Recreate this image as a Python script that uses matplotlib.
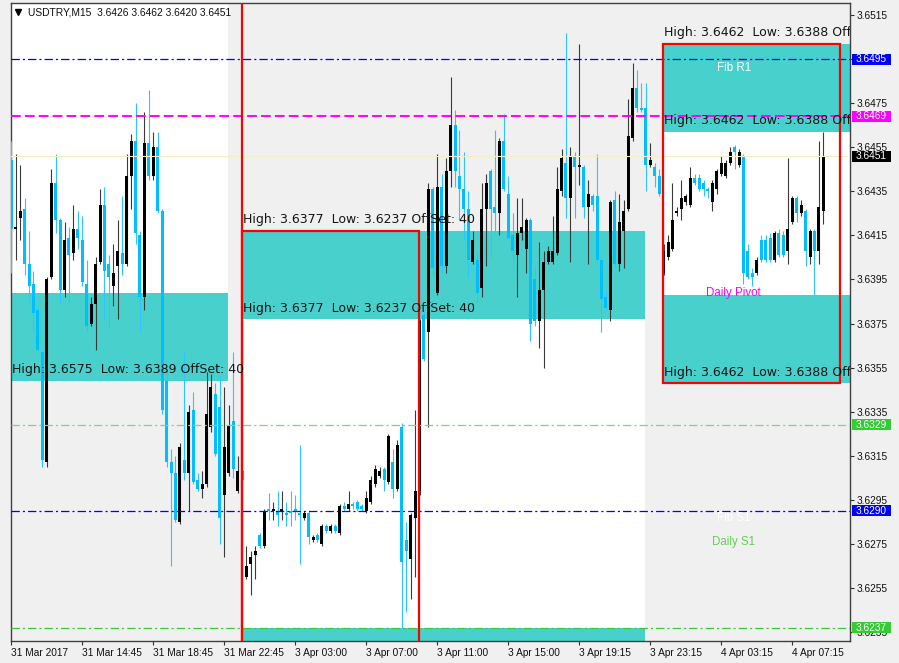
import numpy as np
import matplotlib
matplotlib.use("Agg")
import matplotlib.pyplot as plt
from matplotlib.patches import Rectangle
import matplotlib.transforms as mtrans

plt.rcParams['lines.scale_dashes'] = False
plt.rcParams['font.family'] = ['Liberation Sans', 'DejaVu Sans']

# ---------------- data ----------------
symbol = "USDTRY,M15"
last_ohlc = [3.6426, 3.6462, 3.6420, 3.6451]

opens = [
    3.6449, 3.6418, 3.6423, 3.6427, 3.6402, 3.6393, 3.6381, 3.6362, 3.6312, 3.6396,
    3.6439, 3.6422, 3.6390, 3.6414, 3.6407, 3.6418, 3.6413, 3.6393, 3.6375, 3.6384,
    3.6403, 3.6429, 3.6402, 3.6392, 3.6401, 3.6407, 3.6402, 3.6442, 3.6458, 3.6415,
    3.6387, 3.6457, 3.6442, 3.6455, 3.6426, 3.6349, 3.6312, 3.6307, 3.6285, 3.6313,
    3.6307, 3.6336, 3.6304, 3.6300, 3.6302, 3.6328, 3.6343, 3.6337, 3.6297, 3.6307,
    3.6331, 3.6299, 3.6308, 3.6260, 3.6266, 3.6270, 3.6279, 3.6274, 3.6291, 3.6290,
    3.6290, 3.6290, 3.6289, 3.6290, 3.6291, 3.6289, 3.6287, 3.6289, 3.6277, 3.6279,
    3.6275, 3.6283, 3.6281, 3.6283, 3.6280, 3.6292, 3.6291, 3.6293, 3.6294, 3.6292,
    3.6290, 3.6294, 3.6302, 3.6306, 3.6309, 3.6303, 3.6312, 3.6300, 3.6328, 3.6277,
    3.6268, 3.6287, 3.6299, 3.6379, 3.6371, 3.6436, 3.6389, 3.6437, 3.6401, 3.6444,
    3.6465, 3.6442, 3.6436, 3.6427, 3.6403, 3.6404, 3.6391, 3.6427, 3.6444, 3.6428,
    3.6425, 3.6458, 3.6434, 3.6415, 3.6406, 3.6416, 3.6409, 3.6422, 3.6395, 3.6376,
    3.6390, 3.6403, 3.6403, 3.6407, 3.6435, 3.6448, 3.6432, 3.6451, 3.6446, 3.6446,
    3.6428, 3.6433, 3.6433, 3.6404, 3.6387, 3.6381, 3.6431, 3.6402, 3.6417, 3.6427,
    3.6459, 3.6482, 3.6473, 3.6473, 3.6447, 3.6446, 3.6442, 3.6398, 3.6405, 3.6409,
    3.6425, 3.6427, 3.6430, 3.6429, 3.6441, 3.6441, 3.6439, 3.6436, 3.6430, 3.6436,
    3.6443, 3.6442, 3.6448, 3.6455, 3.6447, 3.6451, 3.6408, 3.6398, 3.6398, 3.6413,
    3.6413, 3.6414, 3.6404, 3.6416, 3.6415, 3.6408, 3.6421, 3.6432, 3.6425, 3.6426,
    3.6405, 3.6417, 3.6408, 3.6426]

highs = [
    3.6458, 3.6452, 3.6447, 3.6432, 3.6417, 3.6399, 3.6382, 3.6363, 3.6396, 3.6445,
    3.6452, 3.6423, 3.6421, 3.6419, 3.6429, 3.6426, 3.6424, 3.6404, 3.6387, 3.6405,
    3.6436, 3.6437, 3.6406, 3.6411, 3.6422, 3.6433, 3.6452, 3.6461, 3.6475, 3.6417,
    3.6471, 3.6481, 3.6462, 3.6462, 3.6427, 3.6354, 3.6318, 3.6315, 3.6321, 3.6362,
    3.6338, 3.6344, 3.6307, 3.6308, 3.6353, 3.6352, 3.6348, 3.6351, 3.6346, 3.6338,
    3.6362, 3.6315, 3.6309, 3.6274, 3.6272, 3.6274, 3.6280, 3.6291, 3.6298, 3.6294,
    3.6299, 3.6299, 3.6294, 3.6299, 3.6297, 3.6320, 3.6290, 3.6290, 3.6279, 3.6280,
    3.6284, 3.6284, 3.6284, 3.6284, 3.6293, 3.6294, 3.6299, 3.6294, 3.6295, 3.6293,
    3.6299, 3.6306, 3.6311, 3.6310, 3.6310, 3.6325, 3.6318, 3.6322, 3.6330, 3.6285,
    3.6289, 3.6336, 3.6377, 3.6381, 3.6439, 3.6437, 3.6452, 3.6443, 3.6450, 3.6487,
    3.6472, 3.6463, 3.6453, 3.6435, 3.6417, 3.6407, 3.6439, 3.6443, 3.6445, 3.6463,
    3.6459, 3.6470, 3.6442, 3.6425, 3.6432, 3.6432, 3.6423, 3.6423, 3.6401, 3.6412,
    3.6408, 3.6410, 3.6424, 3.6446, 3.6454, 3.6507, 3.6455, 3.6453, 3.6502, 3.6447,
    3.6440, 3.6434, 3.6452, 3.6405, 3.6390, 3.6431, 3.6435, 3.6434, 3.6431, 3.6477,
    3.6493, 3.6490, 3.6484, 3.6484, 3.6457, 3.6448, 3.6445, 3.6411, 3.6415, 3.6439,
    3.6428, 3.6440, 3.6434, 3.6446, 3.6443, 3.6443, 3.6440, 3.6437, 3.6440, 3.6445,
    3.6451, 3.6449, 3.6455, 3.6456, 3.6454, 3.6452, 3.6411, 3.6400, 3.6405, 3.6415,
    3.6415, 3.6416, 3.6417, 3.6418, 3.6417, 3.6450, 3.6433, 3.6433, 3.6431, 3.6427,
    3.6418, 3.6418, 3.6458, 3.6462]

lows = [
    3.6398, 3.6404, 3.6413, 3.6397, 3.6385, 3.6372, 3.6362, 3.6310, 3.6310, 3.6395,
    3.6416, 3.6384, 3.6387, 3.6385, 3.6404, 3.6409, 3.6392, 3.6371, 3.6374, 3.6363,
    3.6402, 3.6377, 3.6373, 3.6383, 3.6377, 3.6397, 3.6401, 3.6427, 3.6411, 3.6371,
    3.6381, 3.6440, 3.6440, 3.6425, 3.6334, 3.6310, 3.6265, 3.6285, 3.6284, 3.6304,
    3.6290, 3.6302, 3.6299, 3.6296, 3.6301, 3.6326, 3.6315, 3.6275, 3.6269, 3.6306,
    3.6305, 3.6298, 3.6303, 3.6259, 3.6252, 3.6259, 3.6273, 3.6273, 3.6286, 3.6286,
    3.6283, 3.6286, 3.6283, 3.6283, 3.6286, 3.6266, 3.6286, 3.6275, 3.6276, 3.6276,
    3.6274, 3.6280, 3.6280, 3.6280, 3.6279, 3.6290, 3.6290, 3.6291, 3.6290, 3.6290,
    3.6289, 3.6293, 3.6301, 3.6305, 3.6299, 3.6302, 3.6296, 3.6299, 3.6237, 3.6244,
    3.6250, 3.6260, 3.6297, 3.6358, 3.6328, 3.6397, 3.6388, 3.6398, 3.6398, 3.6437,
    3.6437, 3.6422, 3.6413, 3.6396, 3.6402, 3.6385, 3.6387, 3.6401, 3.6405, 3.6416,
    3.6415, 3.6435, 3.6413, 3.6403, 3.6387, 3.6413, 3.6398, 3.6367, 3.6374, 3.6364,
    3.6355, 3.6402, 3.6402, 3.6406, 3.6433, 3.6423, 3.6403, 3.6423, 3.6438, 3.6423,
    3.6402, 3.6426, 3.6403, 3.6371, 3.6381, 3.6376, 3.6400, 3.6399, 3.6400, 3.6426,
    3.6458, 3.6471, 3.6471, 3.6435, 3.6446, 3.6437, 3.6433, 3.6397, 3.6404, 3.6408,
    3.6424, 3.6422, 3.6429, 3.6428, 3.6438, 3.6435, 3.6433, 3.6432, 3.6426, 3.6434,
    3.6442, 3.6441, 3.6447, 3.6445, 3.6446, 3.6393, 3.6395, 3.6392, 3.6397, 3.6403,
    3.6403, 3.6403, 3.6403, 3.6405, 3.6405, 3.6402, 3.6420, 3.6421, 3.6424, 3.6401,
    3.6402, 3.6388, 3.6402, 3.6420]

closes = [
    3.6418, 3.6419, 3.6426, 3.6402, 3.6392, 3.6380, 3.6363, 3.6313, 3.6395, 3.6439,
    3.6422, 3.6390, 3.6413, 3.6406, 3.6418, 3.6414, 3.6394, 3.6374, 3.6384, 3.6402,
    3.6429, 3.6399, 3.6396, 3.6398, 3.6408, 3.6402, 3.6442, 3.6458, 3.6416, 3.6387,
    3.6457, 3.6442, 3.6455, 3.6426, 3.6336, 3.6312, 3.6307, 3.6286, 3.6319, 3.6307,
    3.6335, 3.6303, 3.6300, 3.6302, 3.6334, 3.6346, 3.6316, 3.6287, 3.6319, 3.6329,
    3.6309, 3.6308, 3.6304, 3.6265, 3.6269, 3.6272, 3.6274, 3.6290, 3.6290, 3.6291,
    3.6288, 3.6291, 3.6288, 3.6289, 3.6290, 3.6288, 3.6289, 3.6278, 3.6278, 3.6277,
    3.6283, 3.6281, 3.6283, 3.6281, 3.6292, 3.6291, 3.6293, 3.6292, 3.6291, 3.6291,
    3.6296, 3.6304, 3.6309, 3.6308, 3.6304, 3.6324, 3.6300, 3.6320, 3.6267, 3.6272,
    3.6288, 3.6299, 3.6376, 3.6359, 3.6436, 3.6400, 3.6437, 3.6401, 3.6444, 3.6465,
    3.6444, 3.6436, 3.6427, 3.6404, 3.6413, 3.6389, 3.6427, 3.6439, 3.6427, 3.6425,
    3.6458, 3.6436, 3.6414, 3.6408, 3.6416, 3.6419, 3.6422, 3.6375, 3.6376, 3.6390,
    3.6403, 3.6408, 3.6408, 3.6436, 3.6450, 3.6432, 3.6451, 3.6446, 3.6447, 3.6428,
    3.6434, 3.6429, 3.6404, 3.6386, 3.6382, 3.6430, 3.6402, 3.6421, 3.6426, 3.6460,
    3.6482, 3.6473, 3.6472, 3.6447, 3.6449, 3.6442, 3.6434, 3.6408, 3.6412, 3.6422,
    3.6426, 3.6432, 3.6433, 3.6441, 3.6439, 3.6436, 3.6436, 3.6435, 3.6439, 3.6444,
    3.6448, 3.6448, 3.6453, 3.6453, 3.6453, 3.6398, 3.6396, 3.6396, 3.6404, 3.6404,
    3.6404, 3.6404, 3.6416, 3.6406, 3.6406, 3.6418, 3.6432, 3.6425, 3.6429, 3.6408,
    3.6417, 3.6408, 3.6428, 3.6451]

time_labels = ["31 Mar 2017", "31 Mar 14:45", "31 Mar 18:45", "31 Mar 22:45",
               "3 Apr 03:00", "3 Apr 07:00", "3 Apr 11:00", "3 Apr 15:00",
               "3 Apr 19:15", "3 Apr 23:15", "4 Apr 03:15", "4 Apr 07:15"]
time_label_bars = [0, 16, 32, 48, 64, 80, 96, 112, 128, 144, 160, 176]

price_ticks = [3.6515, 3.6495, 3.6475, 3.6455, 3.6435, 3.6415, 3.6395, 3.6375,
               3.6355, 3.6335, 3.6315, 3.6295, 3.6275, 3.6255, 3.6235]

level_prices = [3.6495, 3.6469, 3.6451, 3.6329, 3.6290, 3.6237]
level_colors = ['#0000FF', '#FF00FF', '#F3EEC6', '#7ED67E', '#0000FF', '#3CC83C']
level_box_colors = ['#0000FF', '#FF00FF', '#000000', '#32CD32', '#0000FF', '#32CD32']
level_styles = ['dashdot', 'dashed', 'solid', 'dashdot', 'dashdot', 'dashdot']

session_high = [3.6575, 3.6377, 3.6462]
session_low = [3.6389, 3.6237, 3.6388]
session_offset = 40  # points

pivot_names = ["Fib R1", "Daily Pivot", "Fib S1", "Daily S1"]
pivot_text_prices = [3.6491, 3.6389, 3.6287, 3.6276]
pivot_text_colors = ['#FFFFFF', '#FF00FF', '#FFFFFF', '#66CC55']

# ---------------- layout ----------------
W, H = 899, 663
fig = plt.figure(figsize=(W / 100, H / 100), dpi=100, facecolor='#F0F0F0')
ax_l, ax_r, ax_t, ax_b = 10.7, 850.0, 3.3, 641.0
ax = fig.add_axes([ax_l / W, (H - ax_b) / H, (ax_r - ax_l) / W, (ax_b - ax_t) / H])
ax.set_facecolor('#F0F0F0')

px_per_bar = 4.4375
bar0_px = 11.3
x_left = (ax_l - bar0_px) / px_per_bar
x_right = (ax_r - bar0_px) / px_per_bar
px_per_price = 22040.0
y_top = 3.6515 + (15 - ax_t) / px_per_price
y_bot = 3.6515 - (ax_b - 15) / px_per_price

teal = '#48D1CC'
off = session_offset * 0.0001
sess_start = [x_left - 5, 51.9, 146.75]
sess_box_end = [48.8, 142.8, x_right + 5]
sess_rect_end = [None, 91.8, 186.7]
sess_text_x = [0.15, 52.2, 147.1]

for k in range(3):
    x0, x1 = sess_start[k], sess_box_end[k]
    lo, hi = session_low[k], session_high[k]
    ax.add_patch(Rectangle((x0, lo), x1 - x0, hi - lo, fc='white', ec='none', zorder=0.5))
    ax.add_patch(Rectangle((x0, hi), x1 - x0, off, fc=teal, ec='none', zorder=0.6))
    ax.add_patch(Rectangle((x0, lo - off), x1 - x0, off, fc=teal, ec='none', zorder=0.6))
    if sess_rect_end[k] is not None:
        ax.add_patch(Rectangle((x0, lo - off), sess_rect_end[k] - x0, hi - lo + 2 * off,
                               fill=False, ec='#FF0000', lw=1.6, zorder=6))
    label = f"High: {hi:.4f}  Low: {lo:.4f} OffSet: {session_offset}"
    for yy in (hi + off, hi, lo - off):
        ty = yy + 0.0005
        if not (y_bot < ty < y_top):
            continue  # lies outside the visible price range
        ax.text(sess_text_x[k], ty, label, fontsize=9, color='#151515',
                family='DejaVu Sans', ha='left', va='center', zorder=7, clip_on=True)

# red separator at session 2 start (full height)
ax.axvline(sess_start[1], color='#FF0000', lw=1.6, zorder=6)

# horizontal levels
for p, c, s in zip(level_prices, level_colors, level_styles):
    if s == 'dashdot':
        ax.axhline(p, color=c, lw=0.9, dashes=(6, 2.2, 1.5, 2.2), zorder=4)
    elif s == 'dashed':
        ax.axhline(p, color=c, lw=1.4, dashes=(7, 3), zorder=4)
    else:
        ax.axhline(p, color=c, lw=0.8, zorder=4)

# candles
o = np.array(opens); h = np.array(highs); l = np.array(lows); c = np.array(closes)
x = np.arange(len(o))
up = c >= o
ax.vlines(x[up], l[up], h[up], color='#3A3A3A', lw=0.8, zorder=3)
ax.vlines(x[~up], l[~up], h[~up], color='#2CC6FF', lw=0.8, zorder=3)
bot = np.minimum(o, c)
ht = np.maximum(np.abs(c - o), 0.00004)
ax.bar(x[up], ht[up], bottom=bot[up], width=0.68, color='#000000', lw=0, zorder=3.2)
ax.bar(x[~up], ht[~up], bottom=bot[~up], width=0.68, color='#00BFFF', lw=0, zorder=3.2)

# pivot texts
for name, p, col in zip(pivot_names, pivot_text_prices, pivot_text_colors):
    ax.text(162.8, p, name, color=col, fontsize=8.3, ha='center', va='center', zorder=7)

ax.set_xlim(x_left, x_right)
ax.set_ylim(y_bot, y_top)

# axes styling
for sp in ax.spines.values():
    sp.set_color('#404040')
    sp.set_linewidth(1.0)
ax.yaxis.tick_right()
ax.set_yticks(price_ticks)
ax.set_yticklabels([f"{p:.4f}" for p in price_ticks])
ax.set_xticks(time_label_bars)
ax.set_xticklabels(time_labels, ha='left')
ax.tick_params(axis='both', direction='out', length=3, width=0.8, color='#303030',
               labelsize=7.3, labelcolor='#101010')
ax.tick_params(axis='y', pad=2)
ax.tick_params(axis='x', pad=2)

# price boxes on the right
bt = mtrans.blended_transform_factory(ax.transAxes, ax.transData)
axw = ax_r - ax_l
hh = 5.5 / px_per_price
for p, bc in zip(level_prices, level_box_colors):
    ax.add_patch(Rectangle(((852 - ax_l) / axw, p - hh), 39 / axw, 2 * hh, transform=bt,
                           fc=bc, ec='none', clip_on=False, zorder=10))
    ax.text((855.5 - ax_l) / axw, p, f"{p:.4f}", transform=bt, color='white', fontsize=7.3,
            ha='left', va='center', clip_on=False, zorder=11)

# header
ax.plot([(18.3 - ax_l) / axw], [1 - (11.5 - ax_t) / (ax_b - ax_t)], marker='v', ms=4.5,
        color='black', transform=ax.transAxes, clip_on=False, zorder=12)
hdr = f"{symbol}  " + " ".join(f"{v:.4f}" for v in last_ohlc)
ax.text((28 - ax_l) / axw, 1 - (12.3 - ax_t) / (ax_b - ax_t), hdr, transform=ax.transAxes,
        fontsize=7.4, color='#101010', ha='left', va='center', zorder=12)

fig.savefig('out.png', dpi=100, facecolor=fig.get_facecolor())
